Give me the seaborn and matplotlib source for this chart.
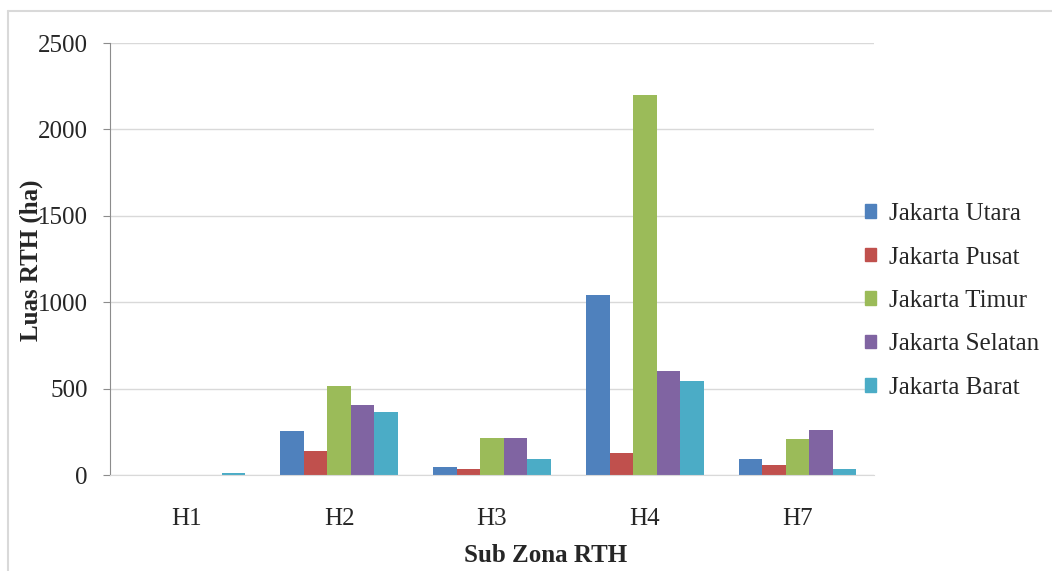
import matplotlib
matplotlib.use("Agg")
import matplotlib.pyplot as plt
import seaborn as sns
import pandas as pd
from matplotlib.lines import Line2D

# Data
# -----------------------------------------------------------------------
zones = ["H1", "H2", "H3", "H4", "H7"]
regions = ["Jakarta Utara", "Jakarta Pusat", "Jakarta Timur",
           "Jakarta Selatan", "Jakarta Barat"]
utara = [0, 255, 45, 1040, 91]
pusat = [0, 139, 37, 127, 56]
timur = [0, 514, 214, 2200, 206]
selatan = [0, 405, 214, 602, 262]
barat = [10, 364, 91, 545, 36]
yticks = [0, 500, 1000, 1500, 2000, 2500]

colors = ["#4F81BD", "#C0504D", "#9BBB59", "#8064A2", "#4BACC6"]

# Long-form table for seaborn
rows = []
for name, vals in zip(regions, [utara, pusat, timur, selatan, barat]):
    for z, v in zip(zones, vals):
        rows.append({"Zona": z, "Wilayah": name, "Luas": v})
df = pd.DataFrame(rows)

sns.set_style("white")
plt.rcParams["font.family"] = ["Liberation Serif", "DejaVu Serif"]

fig = plt.figure(figsize=(10.52, 5.71), dpi=100)
ax = fig.add_axes([110 / 1052, 1 - 475 / 571, 764 / 1052, 432 / 571])

sns.barplot(data=df, x="Zona", y="Luas", hue="Wilayah",
            order=zones, hue_order=regions, palette=colors,
            width=0.77, linewidth=0, saturation=1, ax=ax, legend=False)

ax.set_xlim(-0.5, 4.5)
ax.set_ylim(0, 2500)
ax.set_yticks(yticks)
ax.set_yticklabels([str(t) for t in yticks])
ax.yaxis.grid(True, color="#d9d9d9", linewidth=1)
ax.set_axisbelow(True)

for side in ["top", "right"]:
    ax.spines[side].set_visible(False)
ax.spines["left"].set_color("#8c8c8c")
ax.spines["bottom"].set_color("#d9d9d9")

ax.tick_params(axis="y", length=5, color="#8c8c8c", pad=11,
               labelsize=18, left=True)
ax.tick_params(axis="x", length=0, pad=24, labelsize=18)
ax.set_xlabel("")
ax.set_ylabel("")

fig.text(31 / 1052, 1 - 260 / 571, "Luas RTH (ha)", rotation=90,
         ha="center", va="center", fontsize=18, fontweight="bold")
fig.text(546 / 1052, 1 - 556 / 571, "Sub Zona RTH",
         ha="center", va="center", fontsize=18, fontweight="bold")

handles = [plt.Rectangle((0, 0), 1, 1, color=c) for c in colors]
fig.legend(handles, regions, loc="center left",
           bbox_to_anchor=(865 / 1052, 1 - 301 / 571), frameon=False,
           borderpad=0, borderaxespad=0,
           fontsize=18, handlelength=0.45, handleheight=0.45,
           handletextpad=0.5, labelspacing=0.86)

# light frame like the cropped source picture
fig.add_artist(Line2D([8 / 1052, 1], [1 - 11 / 571, 1 - 11 / 571],
                      transform=fig.transFigure, color="#d9d9d9", linewidth=1.5))
fig.add_artist(Line2D([8 / 1052, 8 / 1052], [0, 1 - 11 / 571],
                      transform=fig.transFigure, color="#d9d9d9", linewidth=1.5))

fig.savefig("out.png", dpi=100)
